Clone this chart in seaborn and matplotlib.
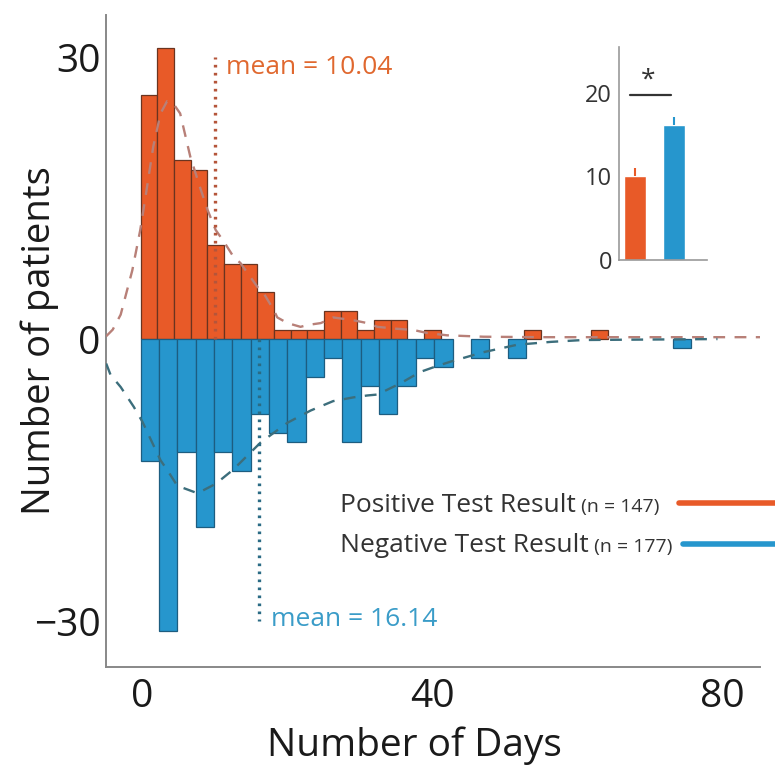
import matplotlib
matplotlib.use("Agg")
import matplotlib.pyplot as plt
from matplotlib.lines import Line2D
import numpy as np
import pandas as pd
import seaborn as sns

# --- data ---
# histogram counts (positive test above zero, negative test mirrored below)
pos_start, pos_width = -0.25, 2.3
pos_counts = [26, 31, 19, 18, 10, 8, 8, 5, 1, 1, 1, 3, 3, 1, 2, 2, 0, 1,
              0, 0, 0, 0, 0, 1, 0, 0, 0, 1]
neg_start, neg_width = -0.25, 2.53
neg_counts = [13, 31, 12, 20, 12, 14, 8, 10, 11, 4, 2, 11, 5, 8, 5, 2, 3, 0,
              2, 0, 2, 0, 0, 0, 0, 0, 0, 0, 0, 1]

# smoothed fits (dashed)
pos_fit_x = [-5, -4.1, -3, -1.4, -0.3, 0.5, 1.5, 2.5, 3.4, 4.3, 5.2, 6.6, 8,
             9.0, 10.1, 11.2, 12.6, 13.5, 15.9, 16.7, 18.1, 18.6, 20, 21.8,
             22.8, 24.6, 26.3, 29.1, 31, 32.4, 35, 37.4, 39.3, 42, 47, 55,
             65, 75, 85.2]
pos_fit_y = [0.3, 1.0, 2.6, 7.3, 11.6, 15.5, 20.5, 24, 25.3, 25, 24, 19.4,
             16, 13.7, 11.6, 10.4, 8.7, 8.1, 5.5, 4.9, 3.1, 2.3, 1.7, 1.3,
             1.5, 1.7, 2.3, 2.0, 1.7, 1.3, 1.1, 0.96, 0.64, 0.4, 0.25, 0.2,
             0.2, 0.2, 0.2]
neg_fit_x = [-5, -4.4, -3, -1.2, 0, 2.5, 3.4, 4.8, 7.6, 10.1, 12.5, 16.3,
             20.0, 23.2, 26.3, 29.1, 31.0, 32.4, 35.6, 38.3, 40.5, 42.5,
             47.0, 51.7, 56.3, 60.8, 70.1, 79.3]
neg_fit_y = [-2.6, -3.8, -5.1, -7.2, -8.8, -12.9, -13.9, -15.6, -16.4, -15.4,
             -13.9, -11.0, -8.9, -7.6, -6.6, -6.2, -6.0, -5.9, -4.7, -3.5,
             -2.9, -2.4, -1.4, -0.6, -0.3, -0.1, -0.05, 0]

pos_mean, neg_mean = 10.04, 16.14
pos_n, neg_n = 147, 177

# inset: mean days with sem
inset_groups = ["Positive", "Negative"]
inset_means = [10.04, 16.14]
inset_sem = [0.95, 0.95]

ORANGE = "#E85A28"
BLUE = "#2696CD"
INK = "#1a1a1a"

sns.set_style("white")
plt.rcParams["font.family"] = ["Open Sans", "DejaVu Sans"]

fig = plt.figure(figsize=(7.75, 7.74), dpi=100)
ax = fig.add_axes([0.137, 0.138, 0.844, 0.843])

pos_edges = pos_start + pos_width * np.arange(len(pos_counts) + 1)
neg_edges = neg_start + neg_width * np.arange(len(neg_counts) + 1)
pos_df = pd.DataFrame({"day": pos_edges[:-1] + pos_width / 2,
                       "count": pos_counts})
neg_df = pd.DataFrame({"day": neg_edges[:-1] + neg_width / 2,
                       "count": [-c for c in neg_counts]})

sns.histplot(data=pos_df, x="day", weights="count", bins=list(pos_edges),
             color=ORANGE, edgecolor="#6a3420", linewidth=0.9, alpha=1, ax=ax)
sns.histplot(data=neg_df, x="day", weights="count", bins=list(neg_edges),
             color=BLUE, edgecolor="#1d5d80", linewidth=0.9, alpha=1, ax=ax)
for p in ax.patches:
    if p.get_height() == 0:
        p.set_visible(False)

sns.lineplot(x=pos_fit_x, y=pos_fit_y, color="#b88078", lw=1.7,
             linestyle=(0, (5, 4)), ax=ax, zorder=4)
sns.lineplot(x=neg_fit_x, y=neg_fit_y, color="#3c6e7c", lw=1.7,
             linestyle=(0, (5, 4)), ax=ax, zorder=4)

ax.vlines(pos_mean, 0, 30, colors="#b5553a", lw=2.4,
          linestyles=(0, (0.8, 1.6)), zorder=5)
ax.vlines(neg_mean, 0, -30, colors="#2a6b85", lw=2.4,
          linestyles=(0, (0.8, 1.6)), zorder=5)
ax.text(pos_mean + 1.5, 28.9, f"mean = {pos_mean:.2f}", color="#E0682F",
        fontsize=19, va="center", ha="left")
ax.text(neg_mean + 1.6, -29.8, f"mean = {neg_mean:.2f}", color="#3A9CC8",
        fontsize=19, va="center", ha="left")

ax.set_xlim(-5, 85.2)
ax.set_ylim(-34.9, 34.5)
ax.set_xticks([0, 40, 80])
ax.set_yticks([-30, 0, 30])
ax.set_yticklabels(["\u221230", "0", "30"])
ax.tick_params(axis="both", direction="in", length=6, width=1.2,
               color="#888888", labelsize=28, labelcolor=INK)
ax.tick_params(axis="x", pad=8)
ax.tick_params(axis="y", pad=4)
for side in ["top", "right"]:
    ax.spines[side].set_visible(False)
for side in ["left", "bottom"]:
    ax.spines[side].set_color("#888888")
    ax.spines[side].set_linewidth(1.4)

ax.set_xlabel("Number of Days", fontsize=28, color=INK)
ax.set_ylabel("Number of patients", fontsize=27.5, color=INK)
ax.xaxis.set_label_coords(0.471, -0.09)
ax.yaxis.set_label_coords(-0.072, 0.5)

# legend drawn as text + coloured bars
t1 = fig.text(340 / 775, 1 - 512 / 774, "Positive Test Result", fontsize=19,
              color="#333333", va="baseline")
t2 = fig.text(340 / 775, 1 - 552 / 774, "Negative Test Result", fontsize=19,
              color="#333333", va="baseline")
small = [fig.text(0, 0, f" (n = {n})", fontsize=14, color="#333333",
                  va="baseline") for n in (pos_n, neg_n)]
fig.add_artist(Line2D([679 / 775, 1.0], [1 - 503 / 774] * 2, color=ORANGE,
                      lw=4, transform=fig.transFigure))
fig.add_artist(Line2D([683 / 775, 1.0], [1 - 544 / 774] * 2, color=BLUE,
                      lw=4, transform=fig.transFigure))

# inset bar chart of means
axin = fig.add_axes([0.7987, 0.6641, 0.1135, 0.2752])
sns.barplot(x=inset_groups, y=inset_means, hue=inset_groups,
            palette=[ORANGE, BLUE], width=0.55, legend=False,
            saturation=1, ax=axin)
axin.vlines([0, 1], inset_means, np.array(inset_means) + np.array(inset_sem),
            colors=[ORANGE, BLUE], lw=1.5)
axin.plot([-0.125, 0.925], [19.8, 19.8], color="#333333", lw=1.6)
axin.text(0.35, 21.5, "*", fontsize=19, ha="center", va="center",
          color="#333333")
axin.set_xlim(-0.4, 1.83)
axin.set_ylim(0, 25.5)
axin.set_yticks([0, 10, 20])
axin.set_xticks([])
axin.set_xlabel("")
axin.set_ylabel("")
axin.tick_params(axis="y", direction="out", length=3, width=1,
                 color="#888888", labelsize=17, labelcolor="#333333", pad=2)
for side in ["top", "right"]:
    axin.spines[side].set_visible(False)
for side in ["left", "bottom"]:
    axin.spines[side].set_color("#999999")
    axin.spines[side].set_linewidth(1.2)
axin.patch.set_alpha(0)

# place the small "(n = ...)" right after each legend label
fig.canvas.draw()
renderer = fig.canvas.get_renderer()
for t, s in zip([t1, t2], small):
    bb = t.get_window_extent(renderer)
    x = fig.transFigure.inverted().transform((bb.x1, 0))[0]
    s.set_position((x, t.get_position()[1]))

fig.savefig("out.png", dpi=100)
